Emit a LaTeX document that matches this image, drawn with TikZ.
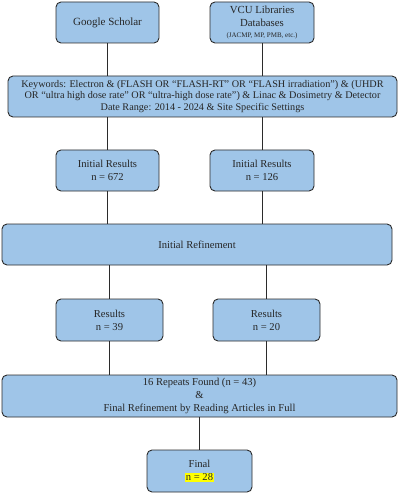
\documentclass[tikz,border=0pt]{standalone}
\usepackage{fontspec}
\setmainfont{Liberation Serif}
\definecolor{boxfill}{HTML}{9FC5E8}
\definecolor{boxline}{HTML}{2B2B2B}
\definecolor{hl}{HTML}{FFFF00}
\begin{document}
\begin{tikzpicture}[x=1pt,y=-1pt,
  flowbox/.style={draw=boxline,fill=boxfill,line width=0.9pt,rounded corners=5pt,
    align=center,inner sep=1pt,font=\fontsize{10.6}{13.2}\selectfont,text=black!85},
  link/.style={draw=boxline,line width=0.9pt}]
\useasboundingbox (0,0) rectangle (400,494);
\node[flowbox,minimum width=103pt,minimum height=41pt,font=\fontsize{11}{13}\selectfont] (gs) at (107.5,22.5) {Google Scholar};
\node[flowbox,minimum width=104pt,minimum height=41pt,font=\fontsize{10.8}{12.8}\selectfont] (vcu) at (262,22.5) {VCU Libraries\\Databases\\[-2.5pt]{\fontsize{7}{8}\selectfont (JACMP, MP, PMB, etc.)}};
\node[flowbox,minimum width=389pt,minimum height=41pt,font=\fontsize{10.2}{11.8}\selectfont] (kw) at (202.5,96.5) {Keywords: Electron \& (FLASH OR “FLASH-RT” OR “FLASH irradiation”) \& (UHDR\\OR “ultra high dose rate” OR “ultra-high dose rate”) \& Linac \& Dosimetry \& Detector\\Date Range: 2014 - 2024 \& Site Specific Settings};
\node[flowbox,minimum width=103pt,minimum height=41pt] (ir1) at (107.5,170.5) {Initial Results\\n = 672};
\node[flowbox,minimum width=104pt,minimum height=41pt] (ir2) at (262,170.5) {Initial Results\\n = 126};
\node[flowbox,minimum width=390pt,minimum height=41pt] (ref) at (197,244.5) {Initial Refinement};
\node[flowbox,minimum width=107pt,minimum height=42pt] (r1) at (109.5,320) {Results\\n = 39};
\node[flowbox,minimum width=107pt,minimum height=42pt] (r2) at (266.5,320) {Results\\n = 20};
\node[flowbox,minimum width=395pt,minimum height=42pt] (rep) at (199.5,396) {16 Repeats Found (n = 43)\\\&\\Final Refinement by Reading Articles in Full};
\node[flowbox,minimum width=105pt,minimum height=42pt] (fin) at (199.5,471) {Final\\{\setlength{\fboxsep}{0.5pt}\colorbox{hl}{n = 28}}};
\draw[link] (gs.south) -- (kw.north -| gs.south);
\draw[link] (vcu.south) -- (kw.north -| vcu.south);
\draw[link] (kw.south -| ir1.north) -- (ir1.north);
\draw[link] (kw.south -| ir2.north) -- (ir2.north);
\draw[link] (ir1.south) -- (ref.north -| ir1.south);
\draw[link] (ir2.south) -- (ref.north -| ir2.south);
\draw[link] (ref.south -| r1.north) -- (r1.north);
\draw[link] (ref.south -| r2.north) -- (r2.north);
\draw[link] (r1.south) -- (rep.north -| r1.south);
\draw[link] (r2.south) -- (rep.north -| r2.south);
\draw[link] (rep.south) -- (fin.north);
\end{tikzpicture}
\end{document}
